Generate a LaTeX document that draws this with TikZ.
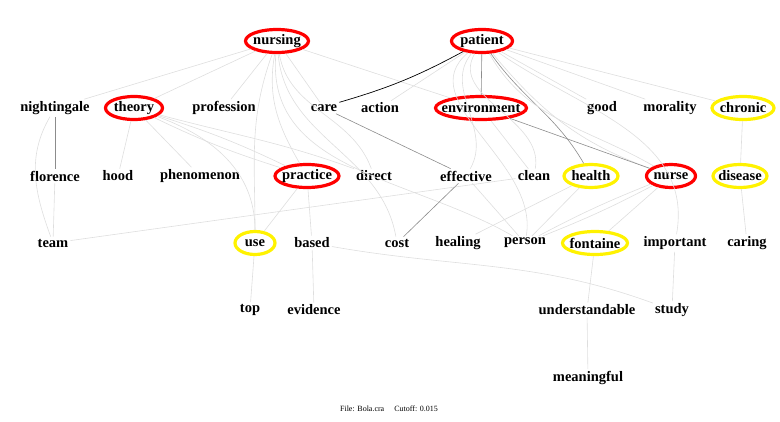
\documentclass[tikz,border=0pt]{standalone}
\usepackage{fontspec}
\setmainfont{Liberation Serif}
\usetikzlibrary{shapes.geometric}
\colorlet{RingRed}{red}
\colorlet{RingYellow}{yellow}
\colorlet{FaintLine}{black!13}
\colorlet{MidLine}{black!45}

\begin{document}
\begin{tikzpicture}[
    x=1pt, y=-1pt,
    word/.style={font=\fontsize{14.5}{16}\selectfont\bfseries, inner sep=2pt},
    ring/.style={
        word, ellipse, draw=#1, line width=3.2pt,
        inner xsep=-30pt, inner ysep=-12pt, minimum height=23pt
    },
    link/.style={draw=FaintLine, line width=0.6pt},
    midlink/.style={draw=MidLine, line width=0.6pt},
    keylink/.style={draw=black, line width=0.7pt},
    footer/.style={font=\fontsize{8}{9}\selectfont}
]
\useasboundingbox (0,0) rectangle (780,421);

% ===================================================================
% WORDS
% ===================================================================

% top row
\node[ring=RingRed, minimum width=63pt] (nursing) at (277,41) {nursing};
\node[ring=RingRed, minimum width=61pt] (patient) at (482,41) {patient};

% second row
\node[word] (nightingale) at (55,108) {nightingale};
\node[ring=RingRed, minimum width=57pt] (theory) at (134,108) {theory};
\node[word] (profession) at (224,108) {profession};
\node[word] (care) at (324,108) {care};
\node[word] (action) at (380,108) {action};
\node[ring=RingRed, minimum width=91pt] (environment) at (481,108) {environment};
\node[word] (good) at (602,108) {good};
\node[word] (morality) at (670,108) {morality};
\node[ring=RingYellow, minimum width=62pt] (chronic) at (743,108) {chronic};

% third row
\node[word] (florence) at (55,176) {florence};
\node[word] (hood) at (118,176) {hood};
\node[word] (phenomenon) at (200,176) {phenomenon};
\node[ring=RingRed, minimum width=64pt] (practice) at (307,176) {practice};
\node[word] (direct) at (374,176) {direct};
\node[word] (effective) at (466,176) {effective};
\node[word] (clean) at (534,176) {clean};
\node[ring=RingYellow, minimum width=54pt] (health) at (591,176) {health};
\node[ring=RingRed, minimum width=49pt] (nurse) at (671,176) {nurse};
\node[ring=RingYellow, minimum width=54pt] (disease) at (740,176) {disease};

% fourth row
\node[word] (team) at (53,243) {team};
\node[ring=RingYellow, minimum width=40pt] (use) at (255,243) {use};
\node[word] (based) at (312,243) {based};
\node[word] (cost) at (397,243) {cost};
\node[word] (healing) at (458,243) {healing};
\node[word] (person) at (525,243) {person};
\node[ring=RingYellow, minimum width=65pt] (fontaine) at (595,243) {fontaine};
\node[word] (important) at (675,243) {important};
\node[word] (caring) at (747,243) {caring};

% fifth and sixth rows
\node[word] (top) at (250,310) {top};
\node[word] (evidence) at (314,310) {evidence};
\node[word] (understandable) at (587,310) {understandable};
\node[word] (study) at (672,310) {study};
\node[word] (meaningful) at (588,378) {meaningful};

% ===================================================================
% LINKS
% ===================================================================

% from nursing
\draw[link] (nursing) -- (nightingale);
\draw[link] (nursing) -- (theory);
\draw[link] (nursing) -- (profession);
\draw[link] (nursing) -- (care);
\draw[link] (nursing) -- (environment);
\draw[link] (nursing) to[out=-100, in=120] (practice);
\draw[link] (nursing) to[out=-80, in=110] (direct);
\draw[link] (nursing) to[out=-110, in=90] (use);
\draw[link] (nursing) to[out=-85, in=100] (cost);
\draw[link] (nursing) to[out=-95, in=150] (person);

% from patient
\draw[keylink] (patient) to[bend left=6] (care.north east);
\draw[link] (patient) -- (action);
\draw[midlink] (patient) -- (environment);
\draw[link] (patient) -- (good);
\draw[link] (patient) -- (morality);
\draw[link] (patient) -- (chronic);
\draw[midlink] (patient) to[out=-55, in=120] (health);
\draw[link] (patient) to[out=-60, in=150] (nurse);
\draw[link] (patient) to[out=-50, in=160] (nurse);
\draw[link] (patient) to[out=-120, in=80] (clean);
\draw[link] (patient) to[out=-130, in=60] (effective);
\draw[link] (patient) to[out=-140, in=80] (person);
\draw[link] (patient) to[out=-35, in=80] (important);

% from theory
\draw[link] (theory) -- (hood);
\draw[link] (theory) -- (phenomenon);
\draw[link] (theory) to[bend left=4] (practice);
\draw[link] (theory) to[bend right=4] (practice);
\draw[link] (theory) to[out=-20, in=90] (use);
\draw[link] (theory) to[out=-15, in=160] (direct);

% left column
\draw[midlink] (nightingale) -- (florence);
\draw[link] (nightingale) to[out=-120, in=110] (team);
\draw[link] (florence) -- (team);
\draw[link] (team) -- (clean);

% middle
\draw[link] (practice) -- (use);
\draw[link] (practice) -- (based);
\draw[link] (use) -- (top);
\draw[link] (based) -- (evidence);
\draw[link] (based) to[out=-10, in=160] (study);
\draw[midlink] (care) -- (effective);
\draw[midlink] (effective) -- (cost);
\draw[link] (effective) -- (person);
\draw[link] (environment) -- (clean);
\draw[midlink] (environment) -- (nurse);

% right side
\draw[link] (healing) -- (health);
\draw[link] (person) -- (health);
\draw[link] (person) to[bend left=3] (nurse);
\draw[link] (person) to[bend right=3] (nurse);
\draw[link] (fontaine) -- (nurse);
\draw[link] (fontaine) -- (understandable);
\draw[link] (understandable) -- (meaningful);
\draw[link] (important) -- (study);
\draw[link] (chronic) -- (disease);
\draw[link] (disease) -- (caring);

% ===================================================================
% FOOTER
% ===================================================================
\node[footer] (caption) at (389,409) {File: Bola.cra\quad\ Cutoff: 0.015};

\end{tikzpicture}
\end{document}
